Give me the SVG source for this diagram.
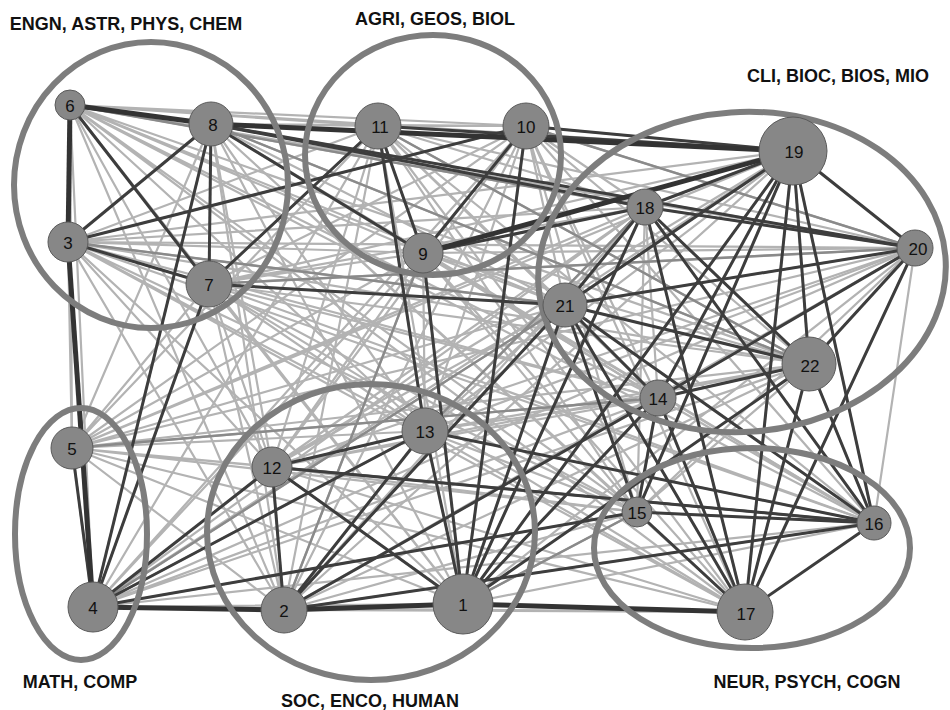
<svg xmlns="http://www.w3.org/2000/svg" width="950" height="710" viewBox="0 0 950 710">
<style>
.lt{fill:none;stroke:#b3b3b3;stroke-width:2.2}
.md{stroke:#8a8a8a;stroke-width:2.4}
.dk{stroke:#3d3d3d;stroke-width:3}
.tk{stroke:#333;stroke-width:5}
.cl{fill:none;stroke:#7d7d7d;stroke-width:6}
.nd{fill:#878787;stroke:#5a5a5a;stroke-width:1}
.nt{font-family:"Liberation Sans",Arial,sans-serif;font-size:17px;fill:#111;text-anchor:middle;dominant-baseline:central}
.lb{font-family:"Liberation Sans",Arial,sans-serif;font-size:18px;font-weight:bold;fill:#111;text-anchor:middle}
</style>
<rect width="950" height="710" fill="#fff"/>
<g id="connectors">
<path class="lt" d="M463 604L284 610M463 604L68 242M463 604L93 607M463 604L72 448M463 604L70 105M463 604L209 284M463 604L211 124M463 604L423 253M463 604L526 126M463 604L378 126M463 604L272 467M463 604L425 431M463 604L658 398M463 604L637 512M463 604L874 523M463 604L745 612M463 604L645 207M463 604L793 151M463 604L915 248M463 604L565 305M463 604L809 364"/>
<path class="lt" d="M284 610L68 242M284 610L93 607M284 610L72 448M284 610L70 105M284 610L209 284M284 610L211 124M284 610L423 253M284 610L526 126M284 610L378 126M284 610L272 467M284 610L425 431M284 610L658 398M284 610L637 512M284 610L874 523M284 610L745 612M284 610L645 207M284 610L793 151M284 610L915 248M284 610L565 305M284 610L809 364"/>
<path class="lt" d="M68 242L93 607M68 242L72 448M68 242L70 105M68 242L209 284M68 242L211 124M68 242L423 253M68 242L526 126M68 242L378 126M68 242L272 467M68 242L425 431M68 242L658 398M68 242L637 512M68 242L874 523M68 242L745 612M68 242L645 207M68 242L793 151M68 242L915 248M68 242L565 305M68 242L809 364"/>
<path class="lt" d="M93 607L72 448M93 607L70 105M93 607L209 284M93 607L211 124M93 607L423 253M93 607L526 126M93 607L378 126M93 607L272 467M93 607L425 431M93 607L658 398M93 607L637 512M93 607L874 523M93 607L745 612M93 607L645 207M93 607L793 151M93 607L915 248M93 607L565 305M93 607L809 364"/>
<path class="lt" d="M72 448L70 105M72 448L209 284M72 448L211 124M72 448L423 253M72 448L526 126M72 448L378 126M72 448L272 467M72 448L425 431M72 448L658 398M72 448L637 512M72 448L874 523M72 448L745 612M72 448L645 207M72 448L793 151M72 448L915 248M72 448L565 305M72 448L809 364"/>
<path class="lt" d="M70 105L209 284M70 105L211 124M70 105L423 253M70 105L526 126M70 105L378 126M70 105L272 467M70 105L425 431M70 105L658 398M70 105L637 512M70 105L874 523M70 105L745 612M70 105L645 207M70 105L793 151M70 105L915 248M70 105L565 305M70 105L809 364"/>
<path class="lt" d="M209 284L211 124M209 284L423 253M209 284L526 126M209 284L378 126M209 284L272 467M209 284L425 431M209 284L658 398M209 284L637 512M209 284L874 523M209 284L745 612M209 284L645 207M209 284L793 151M209 284L915 248M209 284L565 305M209 284L809 364"/>
<path class="lt" d="M211 124L423 253M211 124L526 126M211 124L378 126M211 124L272 467M211 124L425 431M211 124L658 398M211 124L637 512M211 124L874 523M211 124L745 612M211 124L645 207M211 124L793 151M211 124L915 248M211 124L565 305M211 124L809 364"/>
<path class="lt" d="M423 253L526 126M423 253L378 126M423 253L272 467M423 253L425 431M423 253L658 398M423 253L637 512M423 253L874 523M423 253L745 612M423 253L645 207M423 253L793 151M423 253L915 248M423 253L565 305M423 253L809 364"/>
<path class="lt" d="M526 126L378 126M526 126L272 467M526 126L425 431M526 126L658 398M526 126L637 512M526 126L874 523M526 126L745 612M526 126L645 207M526 126L793 151M526 126L915 248M526 126L565 305M526 126L809 364"/>
<path class="lt" d="M378 126L272 467M378 126L425 431M378 126L658 398M378 126L637 512M378 126L874 523M378 126L745 612M378 126L645 207M378 126L793 151M378 126L915 248M378 126L565 305M378 126L809 364"/>
<path class="lt" d="M272 467L425 431M272 467L658 398M272 467L637 512M272 467L874 523M272 467L745 612M272 467L645 207M272 467L793 151M272 467L915 248M272 467L565 305M272 467L809 364"/>
<path class="lt" d="M425 431L658 398M425 431L637 512M425 431L874 523M425 431L745 612M425 431L645 207M425 431L793 151M425 431L915 248M425 431L565 305M425 431L809 364"/>
<path class="lt" d="M658 398L637 512M658 398L874 523M658 398L745 612M658 398L645 207M658 398L793 151M658 398L915 248M658 398L565 305M658 398L809 364"/>
<path class="lt" d="M637 512L874 523M637 512L745 612M637 512L645 207M637 512L793 151M637 512L915 248M637 512L565 305M637 512L809 364"/>
<path class="lt" d="M874 523L745 612M874 523L645 207M874 523L793 151M874 523L915 248M874 523L565 305M874 523L809 364"/>
<path class="lt" d="M745 612L645 207M745 612L793 151M745 612L915 248M745 612L565 305M745 612L809 364M645 207L793 151M645 207L915 248M645 207L565 305M645 207L809 364M793 151L915 248M793 151L565 305M793 151L809 364M915 248L565 305M915 248L809 364M565 305L809 364"/>
<line class="md" x1="68" y1="242" x2="565" y2="305"/>
<line class="md" x1="209" y1="284" x2="915" y2="248"/>
<line class="md" x1="72" y1="448" x2="658" y2="398"/>
<line class="md" x1="272" y1="467" x2="874" y2="523"/>
<line class="md" x1="425" y1="431" x2="645" y2="207"/>
<line class="md" x1="93" y1="607" x2="565" y2="305"/>
<line class="md" x1="284" y1="610" x2="423" y2="253"/>
<line class="md" x1="211" y1="124" x2="809" y2="364"/>
<line class="md" x1="70" y1="105" x2="645" y2="207"/>
<line class="md" x1="378" y1="126" x2="809" y2="364"/>
<line class="md" x1="463" y1="604" x2="637" y2="512"/>
<line class="md" x1="526" y1="126" x2="915" y2="248"/>
<line class="dk" x1="70" y1="105" x2="209" y2="284"/>
<line class="dk" x1="68" y1="242" x2="211" y2="124"/>
<line class="dk" x1="68" y1="242" x2="209" y2="284"/>
<line class="dk" x1="211" y1="124" x2="209" y2="284"/>
<line class="dk" x1="68" y1="242" x2="526" y2="126"/>
<line class="dk" x1="72" y1="448" x2="93" y2="607"/>
<line class="dk" x1="211" y1="124" x2="645" y2="207"/>
<line class="dk" x1="211" y1="124" x2="915" y2="248"/>
<line class="dk" x1="211" y1="124" x2="423" y2="253"/>
<line class="dk" x1="209" y1="284" x2="378" y2="126"/>
<line class="dk" x1="209" y1="284" x2="565" y2="305"/>
<line class="dk" x1="93" y1="607" x2="211" y2="124"/>
<line class="dk" x1="93" y1="607" x2="209" y2="284"/>
<line class="dk" x1="378" y1="126" x2="423" y2="253"/>
<line class="dk" x1="378" y1="126" x2="425" y2="431"/>
<line class="dk" x1="378" y1="126" x2="793" y2="151"/>
<line class="dk" x1="526" y1="126" x2="793" y2="151"/>
<line class="dk" x1="526" y1="126" x2="423" y2="253"/>
<line class="dk" x1="526" y1="126" x2="463" y2="604"/>
<line class="dk" x1="423" y1="253" x2="645" y2="207"/>
<line class="dk" x1="423" y1="253" x2="463" y2="604"/>
<line class="dk" x1="645" y1="207" x2="565" y2="305"/>
<line class="dk" x1="645" y1="207" x2="809" y2="364"/>
<line class="dk" x1="645" y1="207" x2="745" y2="612"/>
<line class="dk" x1="645" y1="207" x2="915" y2="248"/>
<line class="dk" x1="645" y1="207" x2="874" y2="523"/>
<line class="dk" x1="645" y1="207" x2="793" y2="151"/>
<line class="dk" x1="793" y1="151" x2="565" y2="305"/>
<line class="dk" x1="793" y1="151" x2="658" y2="398"/>
<line class="dk" x1="793" y1="151" x2="915" y2="248"/>
<line class="dk" x1="793" y1="151" x2="809" y2="364"/>
<line class="dk" x1="793" y1="151" x2="745" y2="612"/>
<line class="dk" x1="793" y1="151" x2="874" y2="523"/>
<line class="dk" x1="793" y1="151" x2="637" y2="512"/>
<line class="dk" x1="793" y1="151" x2="463" y2="604"/>
<line class="dk" x1="915" y1="248" x2="565" y2="305"/>
<line class="dk" x1="915" y1="248" x2="809" y2="364"/>
<line class="dk" x1="915" y1="248" x2="745" y2="612"/>
<line class="dk" x1="915" y1="248" x2="658" y2="398"/>
<line class="dk" x1="565" y1="305" x2="809" y2="364"/>
<line class="dk" x1="565" y1="305" x2="658" y2="398"/>
<line class="dk" x1="565" y1="305" x2="874" y2="523"/>
<line class="dk" x1="565" y1="305" x2="745" y2="612"/>
<line class="dk" x1="565" y1="305" x2="463" y2="604"/>
<line class="dk" x1="565" y1="305" x2="637" y2="512"/>
<line class="dk" x1="565" y1="305" x2="284" y2="610"/>
<line class="dk" x1="809" y1="364" x2="658" y2="398"/>
<line class="dk" x1="809" y1="364" x2="745" y2="612"/>
<line class="dk" x1="809" y1="364" x2="874" y2="523"/>
<line class="dk" x1="809" y1="364" x2="463" y2="604"/>
<line class="dk" x1="658" y1="398" x2="637" y2="512"/>
<line class="dk" x1="658" y1="398" x2="745" y2="612"/>
<line class="dk" x1="658" y1="398" x2="463" y2="604"/>
<line class="dk" x1="658" y1="398" x2="284" y2="610"/>
<line class="dk" x1="637" y1="512" x2="874" y2="523"/>
<line class="dk" x1="637" y1="512" x2="745" y2="612"/>
<line class="dk" x1="874" y1="523" x2="745" y2="612"/>
<line class="dk" x1="645" y1="207" x2="463" y2="604"/>
<line class="dk" x1="272" y1="467" x2="425" y2="431"/>
<line class="dk" x1="272" y1="467" x2="284" y2="610"/>
<line class="dk" x1="272" y1="467" x2="463" y2="604"/>
<line class="dk" x1="272" y1="467" x2="93" y2="607"/>
<line class="dk" x1="272" y1="467" x2="874" y2="523"/>
<line class="dk" x1="425" y1="431" x2="463" y2="604"/>
<line class="dk" x1="425" y1="431" x2="284" y2="610"/>
<line class="dk" x1="425" y1="431" x2="874" y2="523"/>
<line class="dk" x1="93" y1="607" x2="425" y2="431"/>
<line class="dk" x1="284" y1="610" x2="874" y2="523"/>
<line class="dk" x1="93" y1="607" x2="637" y2="512"/>
<line class="tk" x1="70" y1="105" x2="211" y2="124"/>
<line class="tk" x1="211" y1="124" x2="793" y2="151"/>
<line class="tk" x1="70" y1="105" x2="68" y2="242"/>
<line class="tk" x1="68" y1="242" x2="93" y2="607"/>
<line class="tk" x1="423" y1="253" x2="793" y2="151"/>
<line class="tk" x1="93" y1="607" x2="284" y2="610"/>
<line class="tk" x1="284" y1="610" x2="463" y2="604"/>
<line class="tk" x1="463" y1="604" x2="745" y2="612"/>
</g>
<g id="clusters">
<ellipse id="cluster-engn" class="cl" cx="151" cy="185" rx="137" ry="143"/>
<ellipse id="cluster-agri" class="cl" cx="433" cy="155" rx="128" ry="120"/>
<ellipse id="cluster-cli" class="cl" cx="742" cy="272" rx="204" ry="160" transform="rotate(-4 742 272)"/>
<ellipse id="cluster-math" class="cl" cx="81" cy="534" rx="66" ry="126"/>
<ellipse id="cluster-soc" class="cl" cx="371" cy="532" rx="164" ry="148"/>
<ellipse id="cluster-neur" class="cl" cx="752" cy="548" rx="158" ry="100"/>
</g>
<g id="node-1"><circle class="nd" cx="463" cy="604" r="30"/><text class="nt" x="463" y="605">1</text></g>
<g id="node-2"><circle class="nd" cx="284" cy="610" r="23"/><text class="nt" x="284" y="611">2</text></g>
<g id="node-3"><circle class="nd" cx="68" cy="242" r="20"/><text class="nt" x="68" y="243">3</text></g>
<g id="node-4"><circle class="nd" cx="93" cy="607" r="25"/><text class="nt" x="93" y="608">4</text></g>
<g id="node-5"><circle class="nd" cx="72" cy="448" r="21"/><text class="nt" x="72" y="449">5</text></g>
<g id="node-6"><circle class="nd" cx="70" cy="105" r="15"/><text class="nt" x="70" y="106">6</text></g>
<g id="node-7"><circle class="nd" cx="209" cy="284" r="23"/><text class="nt" x="209" y="285">7</text></g>
<g id="node-8"><circle class="nd" cx="211" cy="124" r="22"/><text class="nt" x="213" y="125">8</text></g>
<g id="node-9"><circle class="nd" cx="423" cy="253" r="20"/><text class="nt" x="423" y="254">9</text></g>
<g id="node-10"><circle class="nd" cx="526" cy="126" r="23"/><text class="nt" x="526" y="127">10</text></g>
<g id="node-11"><circle class="nd" cx="378" cy="126" r="23"/><text class="nt" x="380" y="127">11</text></g>
<g id="node-12"><circle class="nd" cx="272" cy="467" r="20"/><text class="nt" x="272" y="468">12</text></g>
<g id="node-13"><circle class="nd" cx="425" cy="431" r="23"/><text class="nt" x="425" y="432">13</text></g>
<g id="node-14"><circle class="nd" cx="658" cy="398" r="18"/><text class="nt" x="658" y="399">14</text></g>
<g id="node-15"><circle class="nd" cx="637" cy="512" r="15"/><text class="nt" x="637" y="513">15</text></g>
<g id="node-16"><circle class="nd" cx="874" cy="523" r="17"/><text class="nt" x="874" y="524">16</text></g>
<g id="node-17"><circle class="nd" cx="745" cy="612" r="28"/><text class="nt" x="746" y="614">17</text></g>
<g id="node-18"><circle class="nd" cx="645" cy="207" r="18"/><text class="nt" x="645" y="208">18</text></g>
<g id="node-19"><circle class="nd" cx="793" cy="151" r="34"/><text class="nt" x="794" y="152">19</text></g>
<g id="node-20"><circle class="nd" cx="915" cy="248" r="18"/><text class="nt" x="918" y="249">20</text></g>
<g id="node-21"><circle class="nd" cx="565" cy="305" r="22"/><text class="nt" x="565" y="306">21</text></g>
<g id="node-22"><circle class="nd" cx="809" cy="364" r="27"/><text class="nt" x="810" y="366">22</text></g>
<g id="labels">
<text class="lb" x="126" y="30">ENGN, ASTR, PHYS, CHEM</text>
<text class="lb" x="435" y="25">AGRI, GEOS, BIOL</text>
<text class="lb" x="838" y="82">CLI, BIOC, BIOS, MIO</text>
<text class="lb" x="80" y="688">MATH, COMP</text>
<text class="lb" x="370" y="707">SOC, ENCO, HUMAN</text>
<text class="lb" x="807" y="688">NEUR, PSYCH, COGN</text>
</g>
</svg>
